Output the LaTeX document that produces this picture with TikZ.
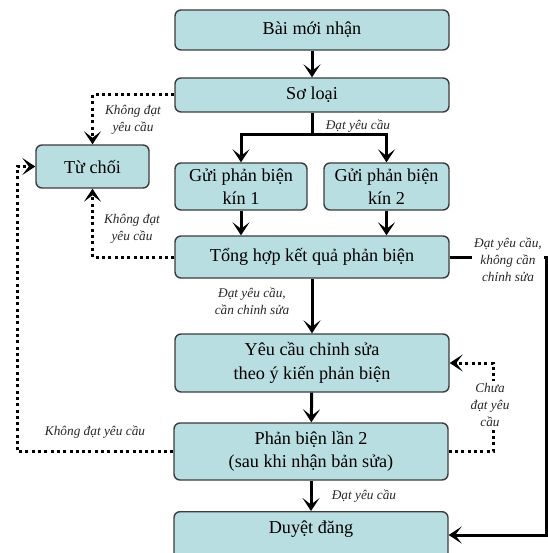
\documentclass[tikz,border=0pt]{standalone}
\usepackage{fontspec}
\setmainfont{Liberation Serif}
\usetikzlibrary{arrows.meta,calc}
\definecolor{boxfill}{RGB}{185,222,225}
\definecolor{boxline}{RGB}{60,60,60}
\definecolor{labtext}{RGB}{40,40,40}
\begin{document}
\begin{tikzpicture}[x=1pt,y=-1pt,
  box/.style={draw=boxline,fill=boxfill,rounded corners=6pt,line width=1.4pt,
    align=center,inner sep=2pt,font=\fontsize{18.2}{23.5}\selectfont},
  lab/.style={align=center,inner sep=1pt,text=labtext,
    font=\fontsize{13.3}{17}\selectfont\itshape},
  arr/.style={line width=3pt,-{Stealth[length=13pt,width=17pt,inset=6.5pt]}},
  solidline/.style={line width=3pt},
  dotarr/.style={line width=3pt,dash pattern=on 3pt off 3.3pt,
    -{Stealth[length=13pt,width=17pt,inset=6.5pt]}}]
\useasboundingbox (0,0) rectangle (547,553);

% boxes
\node[box,minimum width=274pt,minimum height=40pt] (bai) at (312,30) {Bài mới nhận};
\node[box,minimum width=274pt,minimum height=34pt] (so) at (312,95) {Sơ loại};
\node[box,minimum width=113pt,minimum height=43pt] (tuchoi) at (92.5,166.5) {Từ chối};
\node[box,minimum width=132pt,minimum height=47pt] (kin1) at (241,186.5) {Gửi phản biện\\kín 1};
\node[box,minimum width=125pt,minimum height=47pt] (kin2) at (386.5,186.5) {Gửi phản biện\\kín 2};
\node[box,minimum width=274pt,minimum height=42pt] (tong) at (312,257) {Tổng hợp kết quả phản biện};
\node[box,minimum width=274pt,minimum height=58pt] (yeucau) at (312,363) {Yêu cầu chỉnh sửa\\theo ý kiến phản biện};
\node[box,minimum width=274pt,minimum height=57pt] (pb2) at (311,451.5) {Phản biện lần 2\\(sau khi nhận bản sửa)};
\node[box,minimum width=274pt,anchor=north,inner ysep=4pt,text height=18pt,text depth=23pt] (duyet) at (311,511) {Duyệt đăng};

% labels
\node[lab] (l1) at (358,126) {Đạt yêu cầu};
\node[lab] (l2) at (133,120) {Không đạt\\yêu cầu};
\node[lab] (l3) at (132,229) {Không đạt\\yêu cầu};
\node[lab] (l5) at (252,301) {Đạt yêu cầu,\\cần chỉnh sửa};
\node[lab] (l7) at (95,432) {Không đạt yêu cầu};
\node[lab] (l8) at (364,496) {Đạt yêu cầu};

% coordinates
\coordinate (sp) at (312,135);
\coordinate (r1) at (546,257);
\coordinate (r2) at (546,535);
\coordinate (cx) at (493,400);
\coordinate (cl) at (17,300);

% solid connectors
\draw[arr] (bai) -- (so);
\draw[solidline] (so.south) -- (sp);
\draw[arr] (sp) -| (kin1.north);
\draw[arr] (sp) -| (kin2.north);
\draw[arr] (kin1.south) -- (kin1.south |- tong.north);
\draw[arr] (kin2.south) -- (kin2.south |- tong.north);
\draw[arr] (tong) -- (yeucau);
\draw[arr] (yeucau) -- (pb2);
\draw[arr] (pb2.south) -- (pb2.south |- duyet.north);
\draw[arr] (tong.east) -- (r1) -- (r2) -- (r2 -| duyet.east);

% dotted connectors
\draw[dotarr] (so.west) -| (tuchoi.north);
\draw[dotarr] (tong.west) -| (tuchoi.south);
\draw[dotarr] (pb2.west) -| (cl) |- (tuchoi.west);
\draw[dotarr] (pb2.east) -| (cx) |- (yeucau.east);

% labels over lines
\node[lab,fill=white,inner sep=2pt] (l4) at (508,260) {Đạt yêu cầu,\\không cần\\chỉnh sửa};
\node[lab,fill=white,inner sep=2pt] (l6) at (490,405) {Chưa\\đạt yêu\\cầu};
\end{tikzpicture}
\end{document}
